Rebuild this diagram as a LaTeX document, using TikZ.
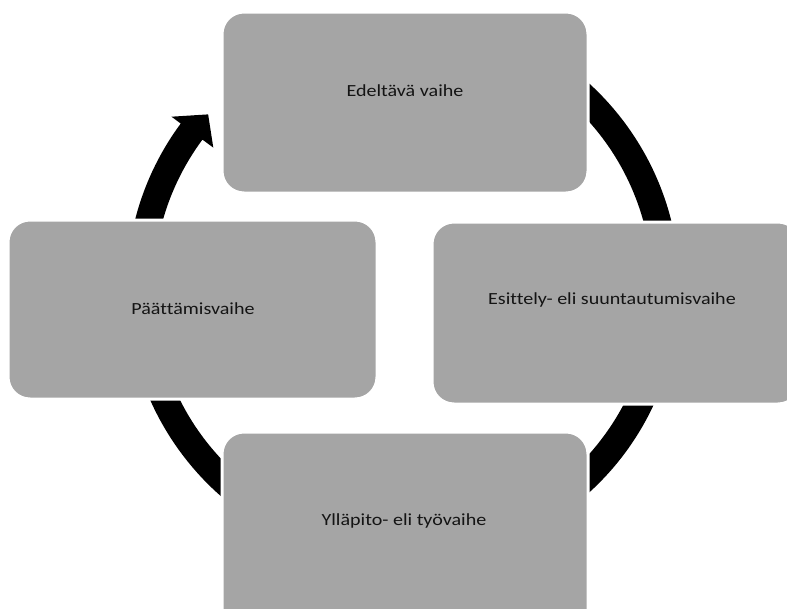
\documentclass[tikz,border=0pt]{standalone}
\usepackage{fontspec}
\setmainfont[Ligatures=NoCommon]{Carlito}
\definecolor{boxgray}{RGB}{165,165,165}
\definecolor{txt}{RGB}{20,20,20}
\begin{document}
\begin{tikzpicture}[x=1pt,y=-1pt,
  phase/.style={draw=white,line width=3pt,fill=boxgray,rounded corners=22pt},
  lbl/.style={text=txt,font=\fontsize{17}{20}\selectfont,inner sep=0pt}]
\useasboundingbox (0,0) rectangle (787,608);
% ring
\coordinate (c) at (403,288);
\fill[black] ([shift={(-125:276.5)}]c) arc[start angle=-125,end angle=216.5,radius=276.5]
  -- ([shift={(-143.5:288)}]c) -- ([shift={(-138.3:261)}]c) -- ([shift={(-143.5:236)}]c)
  -- ([shift={(-143.5:249.5)}]c) arc[start angle=216.5,end angle=-125,radius=249.5] -- cycle;
% boxes
\draw[phase] (222,12) rectangle (588,193);
\draw[phase] (432,222) rectangle (800,404);
\draw[phase] (8,220) rectangle (377,399);
\draw[phase] (222,432) rectangle (588,640);
\node[lbl] (top) at (405,91) {\scalebox{1.18}[1]{Edeltävä vaihe}};
\node[lbl] (right) at (612,300) {\scalebox{1.18}[1]{Esittely- eli suuntautumisvaihe}};
\node[lbl] (left) at (193,309) {\scalebox{1.18}[1]{Päättämisvaihe}};
\node[lbl] (bottom) at (404,521) {\scalebox{1.18}[1]{Ylläpito- eli työvaihe}};
\end{tikzpicture}
\end{document}
